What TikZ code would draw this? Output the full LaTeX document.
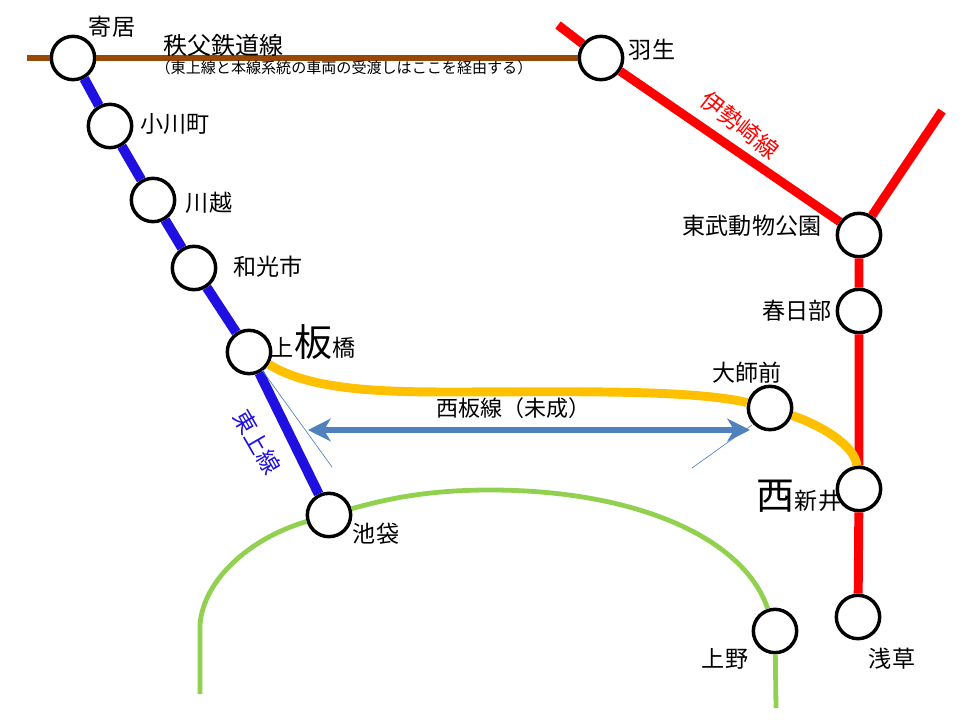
\documentclass[tikz,border=0pt]{standalone}
\usepackage{fontspec}
\setmainfont{Noto Sans CJK JP}
\usetikzlibrary{
	arrows.meta
}
\definecolor{chichibu}{HTML}{984807}
\definecolor{tojo}{HTML}{1F0FE0}
\definecolor{isesaki}{HTML}{FF0000}
\definecolor{nishiita}{HTML}{FFC000}
\definecolor{yamanote}{HTML}{92D050}
\definecolor{plan}{HTML}{4F81BD}
\tikzset{
	x=0.75pt,
	y=-0.75pt,
	station/.style={
		circle,draw=black,fill=white,line width=2.6pt,minimum size=32.5pt,inner sep=0pt
	},
	stationname/.style={
		inner sep=0pt,font=\fontsize{17.3}{17.3}\selectfont
	}
}
\newcommand{\bigchar}[1]{{\fontsize{28.5}{28.5}\selectfont #1}}

\begin{document}
\begin{tikzpicture}
		\useasboundingbox (0,0) rectangle (960,720);
		\coordinate (chichibuend) at (27,58);
		\coordinate (isesakiend) at (558,25);
		\coordinate (nikkoend) at (942,111);
		\coordinate (parkleft) at (200,694);
		\coordinate (parkright) at (776,708);
		\coordinate (arrowleft) at (308,430);
		\coordinate (arrowright) at (750,430);
		\coordinate (leftguidea) at (262,370);
		\coordinate (leftguideb) at (332,467);
		\coordinate (rightguidea) at (752,425);
		\coordinate (rightguideb) at (692,468);

		\draw
			node[station] (yorii)     at (73,58)   {}
			node[station] (ogawa)     at (110,126) {}
			node[station] (kawagoe)   at (153,200) {}
			node[station] (wako)      at (194,268) {}
			node[station] (itabashi)  at (249,352) {}
			node[station] (ikebukuro) at (329,515) {}
			node[station] (hanyu)     at (601,58)  {}
			node[station] (park)      at (859,235) {}
			node[station] (kasukabe)  at (859,311) {}
			node[station] (daishi)    at (770,408) {}
			node[station] (arai)      at (859,489) {}
			node[station] (asakusa)   at (858,617) {}
			node[station] (ueno)      at (775,631) {}
		;

		% lines
		\draw[chichibu,line width=4.8pt] (chichibuend) -- (yorii) -- (hanyu);
		\draw[tojo,line width=7.4pt] (yorii) -- (ogawa) -- (kawagoe) -- (wako) -- (itabashi) -- (ikebukuro);
		\draw[isesaki,line width=6.7pt] (isesakiend) -- (hanyu) -- (park) -- (kasukabe) -- (arai) -- (asakusa);
		\draw[isesaki,line width=6.7pt] (nikkoend) -- (park);
		\draw[nishiita,line width=6.7pt] (itabashi) .. controls (310,390) and (380,392) .. (450,392)
			.. controls (560,392) and (690,389) .. (daishi);
		\draw[nishiita,line width=6.7pt] (daishi) .. controls (820,425) and (855,445) .. (arai);
		\draw[yamanote,line width=3.6pt] (parkleft) -- (200,625) .. controls (203,580) and (250,538) .. (ikebukuro);
		\draw[yamanote,line width=3.6pt] (ikebukuro) .. controls (390,498) and (430,490) .. (490,490)
			.. controls (640,490) and (745,540) .. (ueno);
		\draw[yamanote,line width=3.6pt] (ueno) -- (parkright);

		% unbuilt section
		\draw[plan,line width=0.5pt] (leftguidea) -- (leftguideb);
		\draw[plan,line width=0.5pt] (rightguidea) -- (rightguideb);
		\draw[plan,line width=3.8pt,{Stealth[length=17pt,width=17pt,inset=5pt]}-{Stealth[length=17pt,width=17pt,inset=5pt]}] (arrowleft) -- (arrowright);

		\draw
			node[stationname] (yoriilabel)     at (112,27)  {寄居}
			node[stationname] (ogawalabel)     at (175,124) {小川町}
			node[stationname] (kawagoelabel)   at (209,203) {川越}
			node[stationname] (wakolabel)      at (268,267) {和光市}
			node[stationname] (itabashilabel)  at (313,342) {上\bigchar{板}橋}
			node[stationname] (ikebukurolabel) at (376,534) {池袋}
			node[stationname] (hanyulabel)     at (652,50)  {羽生}
			node[stationname] (parklabel)      at (752,226) {東武動物公園}
			node[stationname] (kasukabelabel)  at (797,311) {春日部}
			node[stationname] (daishilabel)    at (747,373) {大師前}
			node[stationname] (arailabel)      at (799,496) {\bigchar{西}新井}
			node[stationname] (asakusalabel)   at (892,659) {浅草}
			node[stationname] (uenolabel)      at (725,659) {上野}
			node[stationname,font=\fontsize{18}{18}\selectfont] (chichibulabel) at (223,45) {秩父鉄道線}
			node[stationname,font=\fontsize{11.3}{11.3}\selectfont] (chichibunote) at (344,68) {（東上線と本線系統の車両の受渡しはここを経由する）}
			node[stationname,font=\fontsize{16.5}{16.5}\selectfont] (nishiitalabel) at (513,408) {西板線（未成）}
			node[stationname,tojo,rotate=-60] (tojolabel) at (257,442) {東上線}
			node[stationname,isesaki,rotate=-38] (isesakilabel) at (740,125) {伊勢崎線}
		;
	\end{tikzpicture}
\end{document}
